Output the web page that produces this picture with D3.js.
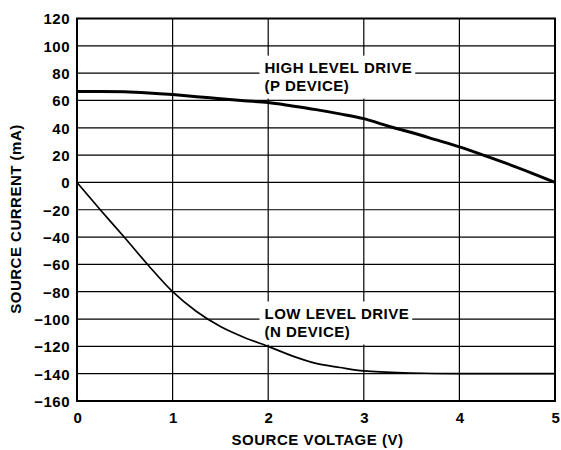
<!DOCTYPE html>
<html>
<head>
<meta charset="utf-8">
<script src="https://cdn.jsdelivr.net/npm/d3@7"></script>
<style>
  html, body { margin: 0; padding: 0; background: #fff; }
  svg { display: block; }
  text { font-family: Arial, "Liberation Sans", Helvetica, sans-serif; font-weight: bold; font-size: 15px; letter-spacing: 0.5px; fill: #000; }
</style>
</head>
<body>
<svg id="chart" width="561" height="450"></svg>
<script>
// ---- data ----
const xTicks = [0, 1, 2, 3, 4, 5];
const yTicks = [-160, -140, -120, -100, -80, -60, -40, -20, 0, 20, 40, 60, 80, 100, 120];
const highV = [0, 0.25, 0.5, 0.75, 1.0, 1.25, 1.5, 1.75, 2.0, 2.25, 2.5, 2.75, 3.0, 3.25, 3.5, 3.75, 4.0, 4.25, 4.5, 4.75, 5.0];
const highI = [66.5, 66.5, 66.3, 65.5, 64.3, 62.8, 61.2, 59.8, 58.5, 56, 53.3, 50.2, 46.7, 41.3, 36.5, 31.3, 26, 20, 13.7, 7, 0];
const lowV = [0, 0.25, 0.5, 0.75, 1.0, 1.25, 1.5, 1.75, 2.0, 2.25, 2.5, 2.75, 3.0, 3.5, 4.0, 4.5, 5.0];
const lowI = [0, -20.5, -40.5, -61, -80, -94.5, -105.5, -113.5, -120, -127, -132.5, -135.5, -138, -139.5, -140, -140, -140];
const highLabel = ["HIGH LEVEL DRIVE", "(P DEVICE)"];
const lowLabel = ["LOW LEVEL DRIVE", "(N DEVICE)"];
const xTitle = "SOURCE VOLTAGE (V)";
const yTitle = "SOURCE CURRENT (mA)";

// ---- layout ----
const svg = d3.select("#chart");
const pLeft = 77, pRight = 555, pTop = 18.5, pBottom = 401;
const x = d3.scaleLinear().domain([0, 5]).range([pLeft, pRight]);
const y = d3.scaleLinear().domain([-160, 120]).range([pBottom, pTop]);

// gridlines
const grid = svg.append("g").attr("stroke", "#000").attr("stroke-width", 1.2);
grid.selectAll("line.h").data(yTicks).join("line").attr("class", "h")
  .attr("x1", pLeft).attr("x2", pRight).attr("y1", d => y(d)).attr("y2", d => y(d));
grid.selectAll("line.v").data(xTicks).join("line").attr("class", "v")
  .attr("y1", pTop).attr("y2", pBottom).attr("x1", d => x(d)).attr("x2", d => x(d));

// label boxes (white background interrupting grid)
function addLabel(lines, baseVal) {
  const g = svg.append("g");
  const tx = 264.5;
  const b0 = y(baseVal) - 0.5;
  const rect = g.append("rect").attr("fill", "#fff");
  const t = g.append("text").attr("x", tx).attr("y", b0);
  lines.forEach((s, i) => {
    t.append("tspan").attr("x", tx).attr("y", b0 + i * 18.5).text(s);
  });
  const bb = t.node().getBBox();
  rect.attr("x", tx - 5).attr("y", b0 - 17)
      .attr("width", bb.width + 8).attr("height", 18.5 + 24.5);
}
addLabel(highLabel, 80);
addLabel(lowLabel, -100);

// curves
const line = d3.line().x(d => x(d[0])).y(d => y(d[1])).curve(d3.curveMonotoneX);
svg.append("path").datum(highV.map((v, i) => [v, highI[i]]))
  .attr("fill", "none").attr("stroke", "#000").attr("stroke-width", 3).attr("d", line);
svg.append("path").datum(lowV.map((v, i) => [v, lowI[i]]))
  .attr("fill", "none").attr("stroke", "#000").attr("stroke-width", 1.7).attr("d", line);

// frame
svg.append("rect").attr("x", pLeft).attr("y", pTop).attr("width", pRight - pLeft).attr("height", pBottom - pTop)
  .attr("fill", "none").attr("stroke", "#000").attr("stroke-width", 2);

// axes
const yAxis = svg.append("g").attr("transform", `translate(${pLeft},0)`)
  .call(d3.axisLeft(y).tickValues(yTicks).tickSize(0).tickPadding(7));
yAxis.select(".domain").remove();
yAxis.selectAll("text").attr("dy", "0.36em").attr("x", -7);

const xAxis = svg.append("g").attr("transform", `translate(0,${pBottom})`)
  .call(d3.axisBottom(x).tickValues(xTicks).tickSize(0).tickFormat(d3.format("d")));
xAxis.select(".domain").remove();
xAxis.selectAll("text").attr("y", 21.8).attr("dy", 0).attr("dx", "0.3px");
svg.selectAll(".tick line").remove();
svg.selectAll("g").attr("font-size", null).attr("font-family", null);

// titles
svg.append("text").attr("x", 317.5).attr("y", 444.8).attr("text-anchor", "middle").text(xTitle);
svg.append("text").attr("transform", "translate(20.8,219) rotate(-90)").attr("text-anchor", "middle").text(yTitle);
</script>
</body>
</html>
